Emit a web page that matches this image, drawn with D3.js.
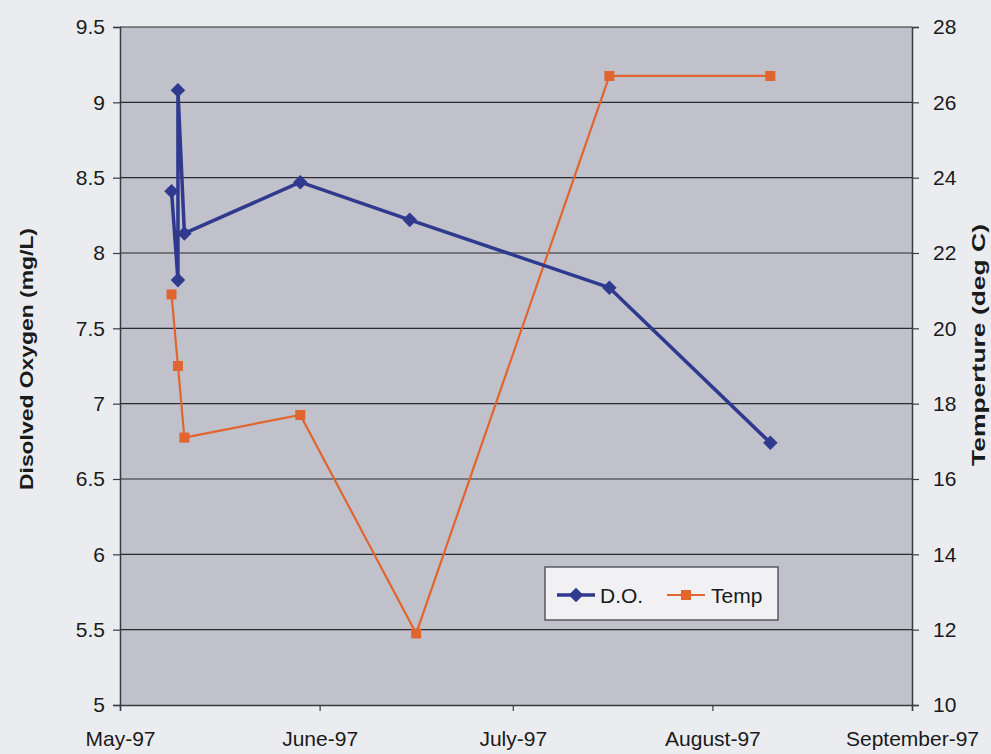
<!DOCTYPE html>
<html>
<head>
<meta charset="utf-8">
<script src="https://cdn.jsdelivr.net/npm/d3@7"></script>
<style>
  html, body { margin: 0; padding: 0; background: #ebecf0; }
  svg { display: block; }
  text { font-family: "Liberation Sans", Arial, sans-serif; fill: #1a1a1a; }
</style>
</head>
<body>
<svg id="chart" width="991" height="754"></svg>
<script>
// Dissolved oxygen samples (in sampling order)
const doDates  = ["1997-05-09", "1997-05-10", "1997-05-10", "1997-05-11", "1997-05-29", "1997-06-15", "1997-07-16", "1997-08-10"];
const doValues = [8.41, 7.82, 9.08, 8.13, 8.47, 8.22, 7.77, 6.74];

// Water temperature samples
const tempDates  = ["1997-05-09", "1997-05-10", "1997-05-11", "1997-05-29", "1997-06-16", "1997-07-16", "1997-08-10"];
const tempValues = [20.9, 19.0, 17.1, 17.7, 11.9, 26.7, 26.7];

// Axis ticks
const monthTicks = ["1997-05-01", "1997-06-01", "1997-07-01", "1997-08-01", "1997-09-01"];
const monthLabels = ["May-97", "June-97", "July-97", "August-97", "September-97"];
const doTicks = [5, 5.5, 6, 6.5, 7, 7.5, 8, 8.5, 9, 9.5];
const tempTicks = [10, 12, 14, 16, 18, 20, 22, 24, 26, 28];

const parse = d3.utcParse("%Y-%m-%d");
const svg = d3.select("#chart");

const plot = { left: 120, right: 912, top: 27, bottom: 705 };

const x = d3.scaleUtc()
  .domain([parse("1997-05-01"), parse("1997-09-01")])
  .range([plot.left, plot.right]);
const yL = d3.scaleLinear().domain([5, 9.5]).range([plot.bottom, plot.top]);
const yR = d3.scaleLinear().domain([10, 28]).range([plot.bottom, plot.top]);

// Plot background
svg.append("rect")
  .attr("x", plot.left).attr("y", plot.top)
  .attr("width", plot.right - plot.left).attr("height", plot.bottom - plot.top)
  .attr("fill", "#c0c1cb");

// Horizontal gridlines at the oxygen ticks
svg.append("g")
  .selectAll("line")
  .data(doTicks.slice(1))
  .join("line")
  .attr("x1", plot.left).attr("x2", plot.right)
  .attr("y1", d => yL(d)).attr("y2", d => yL(d))
  .attr("stroke", "#2b2b30").attr("stroke-width", 1.2);

// Left axis
const axL = svg.append("g")
  .attr("transform", `translate(${plot.left},0)`)
  .call(d3.axisLeft(yL).tickValues(doTicks).tickSize(7).tickPadding(8).tickFormat(d3.format("")));
// Right axis
const axR = svg.append("g")
  .attr("transform", `translate(${plot.right},0)`)
  .call(d3.axisRight(yR).tickValues(tempTicks).tickSize(7).tickPadding(14).tickFormat(d3.format("")));
// Bottom axis
const axB = svg.append("g")
  .attr("transform", `translate(0,${plot.bottom})`)
  .call(d3.axisBottom(x).tickValues(monthTicks.map(parse)).tickSize(6).tickPadding(20)
    .tickFormat((d, i) => monthLabels[i]));

[axL, axR, axB].forEach(g => {
  g.selectAll("path").attr("stroke", "#3a3a40").attr("stroke-width", 1.5);
  g.selectAll("line").attr("stroke", "#3a3a40").attr("stroke-width", 1.2);
  g.selectAll("text").attr("font-size", 21).attr("fill", "#1a1a1a")
    .attr("font-family", "\"Liberation Sans\", Arial, sans-serif");
});

// Axis titles
svg.append("text")
  .attr("transform", "translate(33,359) rotate(-90)")
  .attr("text-anchor", "middle")
  .attr("font-size", 18).attr("font-weight", "bold")
  .attr("textLength", 262).attr("lengthAdjust", "spacingAndGlyphs")
  .text("Disolved Oxygen (mg/L)");
svg.append("text")
  .attr("transform", "translate(985,345) rotate(-90)")
  .attr("text-anchor", "middle")
  .attr("font-size", 18).attr("font-weight", "bold")
  .attr("textLength", 242).attr("lengthAdjust", "spacingAndGlyphs")
  .text("Temperture (deg C)");

const doColor = "#2f3a8f";
const tempColor = "#e0652e";

const doData = doDates.map((d, i) => ({ date: parse(d), v: doValues[i] }));
const tempData = tempDates.map((d, i) => ({ date: parse(d), v: tempValues[i] }));

// Temperature series
svg.append("path")
  .datum(tempData)
  .attr("fill", "none").attr("stroke", tempColor).attr("stroke-width", 2.2)
  .attr("d", d3.line().x(d => x(d.date)).y(d => yR(d.v)));
svg.append("g").selectAll("rect")
  .data(tempData)
  .join("rect")
  .attr("x", d => x(d.date) - 5).attr("y", d => yR(d.v) - 5)
  .attr("width", 10).attr("height", 10)
  .attr("fill", tempColor);

// Dissolved oxygen series
svg.append("path")
  .datum(doData)
  .attr("fill", "none").attr("stroke", doColor).attr("stroke-width", 3.5)
  .attr("stroke-linejoin", "round")
  .attr("d", d3.line().x(d => x(d.date)).y(d => yL(d.v)));
const diamond = d3.symbol().type(d3.symbolDiamond2).size(135);
svg.append("g").selectAll("path")
  .data(doData)
  .join("path")
  .attr("transform", d => `translate(${x(d.date)},${yL(d.v)})`)
  .attr("d", diamond)
  .attr("fill", doColor);

// Legend
const lg = svg.append("g").attr("transform", "translate(545,567)");
lg.append("rect").attr("width", 233).attr("height", 53)
  .attr("fill", "#f1f1f4").attr("stroke", "#3a3a40").attr("stroke-width", 1.2);
lg.append("line").attr("x1", 12).attr("x2", 50).attr("y1", 28).attr("y2", 28)
  .attr("stroke", doColor).attr("stroke-width", 3.5);
lg.append("path").attr("transform", "translate(31,28)").attr("d", diamond).attr("fill", doColor);
lg.append("text").attr("x", 55).attr("y", 36).attr("font-size", 21).text("D.O.");
lg.append("line").attr("x1", 122).attr("x2", 160).attr("y1", 28).attr("y2", 28)
  .attr("stroke", tempColor).attr("stroke-width", 2.2);
lg.append("rect").attr("x", 136).attr("y", 23).attr("width", 10).attr("height", 10).attr("fill", tempColor);
lg.append("text").attr("x", 166).attr("y", 36).attr("font-size", 21).text("Temp");
</script>
</body>
</html>
